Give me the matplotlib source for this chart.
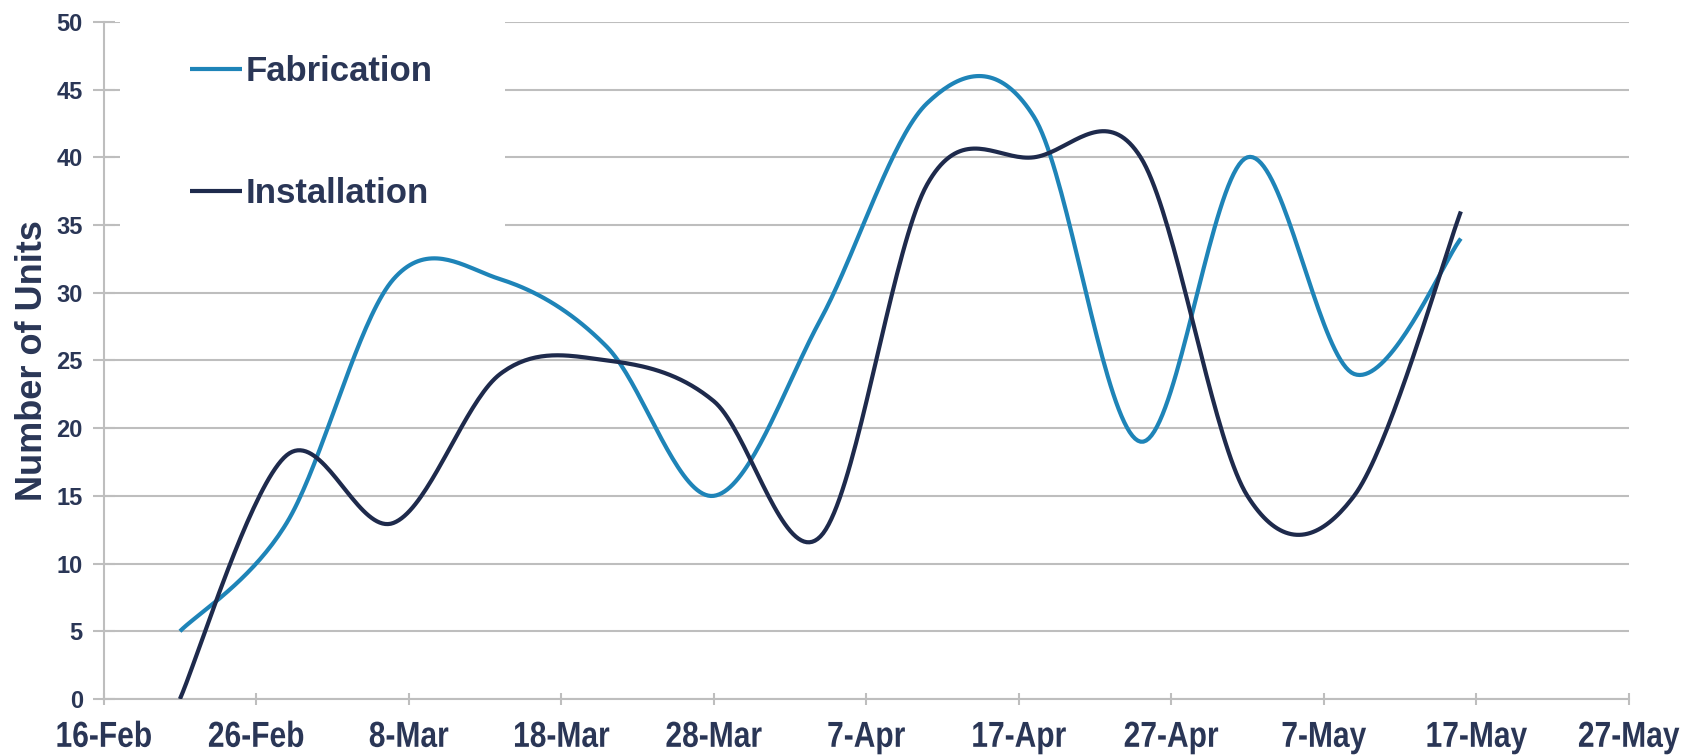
import numpy as np
import matplotlib
matplotlib.use('Agg')
import matplotlib.pyplot as plt
import matplotlib.dates as mdates
from matplotlib.ticker import FuncFormatter
from matplotlib.patches import Rectangle
from matplotlib.patheffects import AbstractPathEffect
from matplotlib.transforms import Affine2D

plt.rcParams['font.family'] = ['Liberation Sans', 'DejaVu Sans']
plt.rcParams['font.weight'] = 'bold'

# weekly data points
week_dates = ['2010-02-21', '2010-02-28', '2010-03-07', '2010-03-14', '2010-03-21',
              '2010-03-28', '2010-04-04', '2010-04-11', '2010-04-18', '2010-04-25',
              '2010-05-02', '2010-05-09', '2010-05-16']
fabrication = [5, 13, 31, 31, 26, 15, 28, 44, 43, 19, 40, 24, 34]
installation = [0, 18, 13, 24, 25, 22, 12, 38, 40, 40, 15, 15, 36]

tick_dates = ['2010-02-16', '2010-02-26', '2010-03-08', '2010-03-18', '2010-03-28',
              '2010-04-07', '2010-04-17', '2010-04-27', '2010-05-07', '2010-05-17',
              '2010-05-27']
y_ticks = [0, 5, 10, 15, 20, 25, 30, 35, 40, 45, 50]

text_col = '#2A3656'
fab_col = '#1E84B8'
inst_col = '#1E2A4C'
grid_col = '#BEBEBE'


def smooth(x, y, n=40):
    # excel-like smoothed line (bezier through points)
    x = np.asarray(x, float)
    y = np.asarray(y, float)
    px = np.concatenate([[x[0]], x, [x[-1]]])
    py = np.concatenate([[y[0]], y, [y[-1]]])
    t = np.linspace(0, 1, n)[:, None]
    pts = []
    for i in range(len(x) - 1):
        p0 = np.array([px[i], py[i]])
        p1 = np.array([px[i + 1], py[i + 1]])
        p2 = np.array([px[i + 2], py[i + 2]])
        p3 = np.array([px[i + 3], py[i + 3]])
        c1 = p1 + (p2 - p0) / 6
        c2 = p2 - (p3 - p1) / 6
        seg = ((1 - t) ** 3) * p1 + 3 * ((1 - t) ** 2) * t * c1 \
            + 3 * (1 - t) * t ** 2 * c2 + t ** 3 * p2
        pts.append(seg if i == 0 else seg[1:])
    pts = np.vstack(pts)
    return pts[:, 0], pts[:, 1]


class Squeeze(AbstractPathEffect):
    # narrows text horizontally (date labels use a condensed face)
    def __init__(self, sx):
        super().__init__()
        self.sx = sx

    def draw_path(self, renderer, gc, tpath, affine, rgbFace=None):
        ext = tpath.get_extents()
        cx = (ext.x0 + ext.x1) / 2
        sq = Affine2D().translate(-cx, 0).scale(self.sx, 1).translate(cx, 0)
        renderer.draw_path(gc, tpath, sq + affine, rgbFace)


xd = mdates.datestr2num(week_dates)
xt = mdates.datestr2num(tick_dates)

fig = plt.figure(figsize=(17, 7.55), dpi=100)
ax = fig.add_axes([0.061, 0.0742, 0.897, 0.8968])

fx, fy = smooth(xd, fabrication)
ix, iy = smooth(xd, installation)
ax.plot(fx, fy, color=fab_col, lw=3, label='Fabrication', solid_capstyle='butt', zorder=3)
ax.plot(ix, iy, color=inst_col, lw=3, label='Installation', solid_capstyle='butt', zorder=3)

ax.set_xlim(xt[0], xt[-1])
ax.set_ylim(0, 50)
ax.set_xticks(xt)
ax.set_yticks(y_ticks)
ax.xaxis.set_major_formatter(FuncFormatter(
    lambda v, pos: f"{mdates.num2date(v).day}-{mdates.num2date(v):%b}"))

ax.grid(axis='y', color=grid_col, lw=1.5)
ax.set_axisbelow(True)
for s in ['top', 'right']:
    ax.spines[s].set_visible(False)
for s in ['left', 'bottom']:
    ax.spines[s].set_color(grid_col)
    ax.spines[s].set_linewidth(1.5)

ax.tick_params(axis='x', direction='inout', length=8, width=1.5, color=grid_col,
               labelsize=26, labelcolor=text_col, pad=11)
ax.tick_params(axis='y', direction='inout', length=16, width=1.5, color=grid_col,
               labelsize=17, labelcolor=text_col, pad=7)
for lab in ax.get_xticklabels():
    lab.set_path_effects([Squeeze(0.83)])

ax.set_ylabel('Number of Units', fontsize=26, color=text_col, fontweight='bold', labelpad=5)

# white box behind the legend, hides the gridlines there
ax.add_patch(Rectangle((0.0105, 0.675), 0.2525, 0.34, transform=ax.transAxes,
                       facecolor='white', edgecolor='none', zorder=1.5, clip_on=False))

leg = ax.legend(loc='upper left', bbox_to_anchor=(0.0564, 0.951), borderaxespad=0,
                fontsize=25, frameon=False, borderpad=0, labelspacing=2.57,
                handlelength=1.5, handletextpad=0.1, labelcolor=text_col)

fig.savefig('out.png', dpi=100)
